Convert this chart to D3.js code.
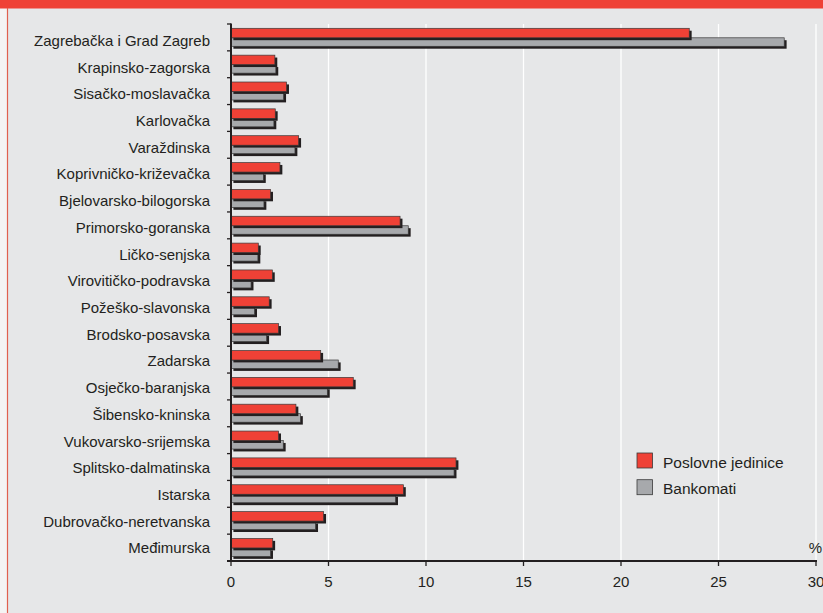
<!DOCTYPE html>
<html>
<head>
<meta charset="utf-8">
<title>Poslovne jedinice i bankomati</title>
<script src="https://d3js.org/d3.v7.min.js"></script>
<style>
  body { margin: 0; background: #f4f4f4; }
  svg { display: block; }
  text { font-family: "Liberation Sans", Arial, Helvetica, sans-serif; fill: #231f20; }
</style>
</head>
<body>
<svg width="823" height="613"></svg>
<script>
// data (% share)
var regions = ["Zagrebačka i Grad Zagreb", "Krapinsko-zagorska", "Sisačko-moslavačka", "Karlovačka",
  "Varaždinska", "Koprivničko-križevačka", "Bjelovarsko-bilogorska", "Primorsko-goranska",
  "Ličko-senjska", "Virovitičko-podravska", "Požeško-slavonska", "Brodsko-posavska", "Zadarska",
  "Osječko-baranjska", "Šibensko-kninska", "Vukovarsko-srijemska", "Splitsko-dalmatinska",
  "Istarska", "Dubrovačko-neretvanska", "Međimurska"];
var poslovne = [23.5, 2.25, 2.85, 2.27, 3.47, 2.51, 2.03, 8.67, 1.4, 2.12, 1.96, 2.44, 4.6,
  6.27, 3.33, 2.44, 11.54, 8.84, 4.75, 2.14];
var bankomati = [28.37, 2.3, 2.7, 2.2, 3.28, 1.66, 1.69, 9.09, 1.38, 1.03, 1.21, 1.83, 5.5,
  4.94, 3.56, 2.68, 11.44, 8.44, 4.34, 2.03];
var xTicks = [0, 5, 10, 15, 20, 25, 30];
var seriesNames = ["Poslovne jedinice", "Bankomati"];

var svg = d3.select("svg");
var red = "#ef4136", grey = "#a7a9ac", dark = "#231f20", panel = "#e6e7e8";

// frame
svg.append("rect").attr("x", 7).attr("y", 0).attr("width", 816).attr("height", 613).attr("fill", panel);
svg.append("rect").attr("x", 0).attr("y", 0).attr("width", 823).attr("height", 8.5).attr("fill", red);
svg.append("line").attr("x1", 7.5).attr("x2", 7.5).attr("y1", 8).attr("y2", 613)
  .attr("stroke", "#e0604f").attr("stroke-width", 1.2);

var x = d3.scaleLinear().domain([0, 30]).range([231, 816]);
var y = d3.scaleBand().domain(regions).range([24, 561]);
// labels sit a little lower at the top than the band centres
var yLabel = d3.scalePoint().domain(regions).range([40.5, 548]);

// grid
svg.append("g").selectAll("line").data(xTicks.slice(1)).enter().append("line")
  .attr("x1", d => x(d)).attr("x2", d => x(d))
  .attr("y1", 24).attr("y2", 561)
  .attr("stroke", "#fff").attr("stroke-width", 1.3);

var rows = regions.map(function(r, i) { return {name: r, p: poslovne[i], b: bankomati[i]}; });
var sh = 2.4;

var g = svg.append("g");
// bankomati (below)
g.selectAll(".bs").data(rows).enter().append("rect")
  .attr("x", x(0) + sh).attr("y", d => y(d.name) + 13.8 + sh)
  .attr("width", d => x(d.b) - x(0)).attr("height", 8.5).attr("fill", dark);
g.selectAll(".b").data(rows).enter().append("rect")
  .attr("x", x(0)).attr("y", d => y(d.name) + 13.8)
  .attr("width", d => x(d.b) - x(0)).attr("height", 8.5)
  .attr("fill", grey).attr("stroke", "#3a3a3a").attr("stroke-width", 0.7);
// poslovne jedinice (above)
g.selectAll(".ps").data(rows).enter().append("rect")
  .attr("x", x(0) + sh).attr("y", d => y(d.name) + 4.3 + sh)
  .attr("width", d => x(d.p) - x(0)).attr("height", 9.5).attr("fill", dark);
g.selectAll(".p").data(rows).enter().append("rect")
  .attr("x", x(0)).attr("y", d => y(d.name) + 4.3)
  .attr("width", d => x(d.p) - x(0)).attr("height", 9.5)
  .attr("fill", red).attr("stroke", "#3a3a3a").attr("stroke-width", 0.7);

// y axis
var yTickPos = regions.map(d => y(d)).concat([561]);
svg.append("g").selectAll("line").data(yTickPos).enter().append("line")
  .attr("x1", 227).attr("x2", 231).attr("y1", d => d).attr("y2", d => d)
  .attr("stroke", dark).attr("stroke-width", 1.3);
svg.append("line").attr("x1", 231).attr("x2", 231).attr("y1", 23.5).attr("y2", 562)
  .attr("stroke", dark).attr("stroke-width", 2);
svg.append("g").selectAll("text").data(regions).enter().append("text")
  .attr("x", 210).attr("y", d => yLabel(d))
  .attr("dy", "0.36em").attr("text-anchor", "end").attr("font-size", 15)
  .text(d => d);

// x axis
svg.append("line").attr("x1", 227).attr("x2", 817).attr("y1", 561).attr("y2", 561)
  .attr("stroke", dark).attr("stroke-width", 1.8);
svg.append("g").selectAll("line").data(xTicks).enter().append("line")
  .attr("x1", d => x(d)).attr("x2", d => x(d)).attr("y1", 561).attr("y2", 566)
  .attr("stroke", dark).attr("stroke-width", 1.3);
svg.append("g").selectAll("text").data(xTicks).enter().append("text")
  .attr("x", d => x(d)).attr("y", 586.5).attr("text-anchor", "middle").attr("font-size", 15)
  .text(d => d);
svg.append("text").attr("x", 822).attr("y", 553).attr("text-anchor", "end")
  .attr("font-size", 15).text("%");

// legend
var leg = svg.append("g").attr("transform", "translate(637,453)");
var legColors = [red, grey];
seriesNames.forEach(function(n, i) {
  leg.append("rect").attr("x", 0).attr("y", i * 26.7).attr("width", 15.5).attr("height", 15)
    .attr("fill", legColors[i]).attr("stroke", "#3a3a3a").attr("stroke-width", 0.8);
  leg.append("text").attr("x", 26).attr("y", i * 26.7 + 14.5).attr("font-size", 15.5).text(n);
});
</script>
</body>
</html>
